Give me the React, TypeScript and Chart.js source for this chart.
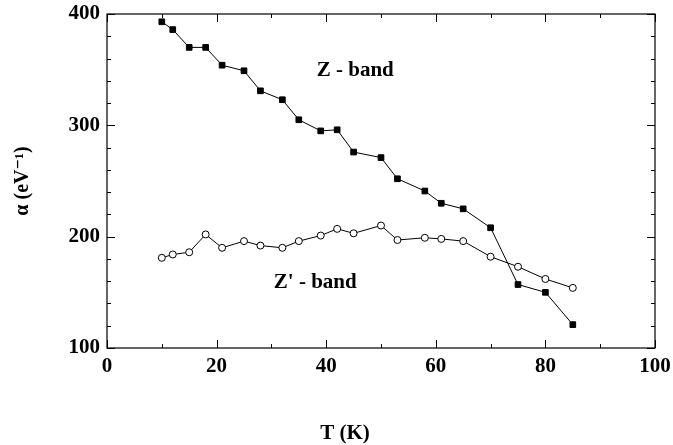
import React, { useEffect, useRef } from "react";
import { Chart, registerables } from "chart.js";

Chart.register(...registerables);

const temperatures = [10, 12, 15, 18, 21, 25, 28, 32, 35, 39, 42, 45, 50, 53, 58, 61, 65, 70, 75, 80, 85];
const zBand = [393, 386, 370, 370, 354, 349, 331, 323, 305, 295, 296, 276, 271, 252, 241, 230, 225, 208, 157, 150, 121];
const zPrimeBand = [181, 184, 186, 202, 190, 196, 192, 190, 196, 201, 207, 203, 210, 197, 199, 198, 196, 182, 173, 162, 154];

const xMajorTicks = [0, 20, 40, 60, 80, 100];
const xMinorTicks = [10, 30, 50, 70, 90];
const yMajorTicks = [100, 200, 300, 400];
const yMinorTicks = [120, 140, 160, 180, 220, 240, 260, 280, 320, 340, 360, 380];

const labels = [
  { text: "Z - band", x: 45.3, y: 349 },
  { text: "Z' - band", x: 38, y: 159 },
];
const xTitle = "T (K)";

const FONT = "'Liberation Serif', 'DejaVu Serif', serif";

const framePlugin = {
  id: "frame",
  afterDraw(chart: any) {
    const { ctx, chartArea: a, scales } = chart;
    const xs = scales.x;
    const ys = scales.y;
    ctx.save();
    ctx.strokeStyle = "#000";
    ctx.lineWidth = 1.2;
    ctx.strokeRect(a.left, a.top, a.right - a.left, a.bottom - a.top);
    ctx.lineWidth = 1;
    ctx.beginPath();
    const xt = (vals: number[], len: number) => {
      for (const v of vals) {
        const p = Math.round(xs.getPixelForValue(v)) + 0.5;
        ctx.moveTo(p, a.bottom);
        ctx.lineTo(p, a.bottom - len);
        ctx.moveTo(p, a.top);
        ctx.lineTo(p, a.top + len);
      }
    };
    const yt = (vals: number[], len: number) => {
      for (const v of vals) {
        const p = Math.round(ys.getPixelForValue(v)) + 0.5;
        ctx.moveTo(a.left, p);
        ctx.lineTo(a.left + len, p);
        ctx.moveTo(a.right, p);
        ctx.lineTo(a.right - len, p);
      }
    };
    xt(xMajorTicks, 8);
    xt(xMinorTicks, 4);
    yt(yMajorTicks, 8);
    yt(yMinorTicks, 4);
    ctx.stroke();
    ctx.fillStyle = "#000";
    ctx.font = `bold 21px ${FONT}`;
    ctx.textAlign = "center";
    ctx.textBaseline = "middle";
    for (const l of labels) {
      ctx.fillText(l.text, xs.getPixelForValue(l.x), ys.getPixelForValue(l.y));
    }
    // x-axis title, centred under the figure as in the original
    ctx.fillText(xTitle, 345, 434);
    ctx.restore();
  },
};

export default function App() {
  const ref = useRef<HTMLCanvasElement>(null);
  useEffect(() => {
    if (!ref.current) return;
    const chart = new Chart(ref.current, {
      type: "line",
      data: {
        datasets: [
          {
            label: "Z - band",
            data: temperatures.map((t, i) => ({ x: t, y: zBand[i] })),
            borderColor: "#000",
            borderWidth: 1,
            backgroundColor: "#000",
            pointStyle: "rect",
            pointRadius: 4,
            pointBorderColor: "#000",
            pointBackgroundColor: "#000",
            pointBorderWidth: 1,
          },
          {
            label: "Z' - band",
            data: temperatures.map((t, i) => ({ x: t, y: zPrimeBand[i] })),
            borderColor: "#000",
            borderWidth: 1,
            backgroundColor: "#fff",
            pointStyle: "circle",
            pointRadius: 3.5,
            pointBorderColor: "#000",
            pointBackgroundColor: "#fff",
            pointBorderWidth: 1,
          },
        ],
      },
      options: {
        animation: false,
        responsive: true,
        maintainAspectRatio: false,
        layout: { padding: { top: 14, right: 18, left: 0, bottom: 0 } },
        plugins: { legend: { display: false }, tooltip: { enabled: false } },
        scales: {
          x: {
            type: "linear",
            min: 0,
            max: 100,
            afterBuildTicks: (s: any) => {
              s.ticks = xMajorTicks.map((v) => ({ value: v }));
            },
            afterFit: (s: any) => {
              s.height = 97;
              s.paddingRight = 0;
              s.paddingLeft = 0;
            },
            grid: { display: false, drawTicks: false },
            border: { display: false },
            ticks: {
              color: "#000",
              font: { family: FONT, size: 21, weight: "bold" },
              padding: 6,
              maxRotation: 0,
            },
            title: { display: false },
          },
          y: {
            type: "linear",
            min: 100,
            max: 400,
            afterBuildTicks: (s: any) => {
              s.ticks = yMajorTicks.map((v) => ({ value: v }));
            },
            afterFit: (s: any) => {
              s.width = 107;
              s.paddingTop = 0;
              s.paddingBottom = 0;
            },
            grid: { display: false, drawTicks: false },
            border: { display: false },
            ticks: {
              color: "#000",
              font: { family: FONT, size: 21, weight: "bold" },
              padding: 7,
            },
            title: {
              display: true,
              text: "α (eV⁻¹)",
              color: "#000",
              font: { family: FONT, size: 20, weight: "bold" },
              padding: { top: 11, bottom: 0 },
            },
          },
        },
      },
      plugins: [framePlugin],
    });
    return () => chart.destroy();
  }, []);
  return (
    <div style={{ position: "fixed", left: 0, top: 0, width: 673, height: 445, background: "#fff" }}>
      <canvas ref={ref} />
    </div>
  );
}
